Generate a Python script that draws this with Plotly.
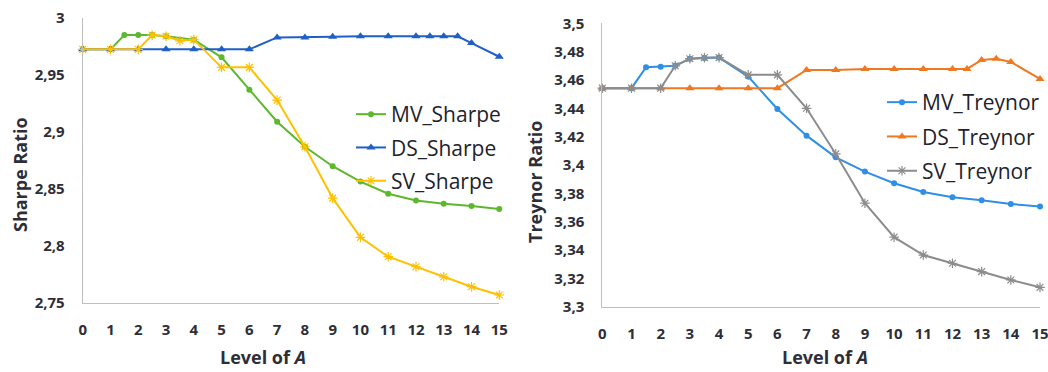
import plotly.graph_objects as go

W, H = 1048, 372

# ---------------- data ----------------
x_ticks = list(range(0, 16))

mv_sharpe_x = [0, 1, 1.5, 2, 2.5, 3, 4, 5, 6, 7, 8, 9, 10, 11, 12, 13, 14, 15]
mv_sharpe_y = [2.9725, 2.9725, 2.985, 2.985, 2.985, 2.984, 2.981, 2.9655, 2.937, 2.909,
               2.887, 2.870, 2.8565, 2.8458, 2.840, 2.837, 2.835, 2.8325]

ds_sharpe_x = [0, 1, 2, 3, 4, 5, 6, 7, 8, 9, 10, 11, 12, 12.5, 13, 13.5, 14, 15]
ds_sharpe_y = [2.9725, 2.9725, 2.9725, 2.9725, 2.9725, 2.9725, 2.9725, 2.983, 2.983, 2.9835,
               2.984, 2.984, 2.984, 2.984, 2.984, 2.984, 2.978, 2.966]

sv_sharpe_x = [0, 1, 2, 2.5, 3, 3.5, 4, 5, 6, 7, 8, 9, 10, 11, 12, 13, 14, 15]
sv_sharpe_y = [2.9725, 2.9725, 2.9725, 2.985, 2.984, 2.980, 2.981, 2.9567, 2.9567, 2.928,
               2.887, 2.842, 2.8076, 2.7906, 2.7818, 2.773, 2.7643, 2.757]

mv_treynor_x = [0, 1, 1.5, 2, 2.5, 3, 3.5, 4, 5, 6, 7, 8, 9, 10, 11, 12, 13, 14, 15]
mv_treynor_y = [3.4542, 3.4542, 3.469, 3.4694, 3.470, 3.475, 3.4755, 3.4758, 3.4624, 3.4395,
                3.4207, 3.4054, 3.3953, 3.3871, 3.3809, 3.3772, 3.3751, 3.3725, 3.3706]

ds_treynor_x = [0, 1, 2, 3, 4, 5, 6, 7, 8, 9, 10, 11, 12, 12.5, 13, 13.5, 14, 15]
ds_treynor_y = [3.4542, 3.4542, 3.4542, 3.4542, 3.4542, 3.4542, 3.4542, 3.4671, 3.4671, 3.4678,
                3.4678, 3.4678, 3.4678, 3.4678, 3.4741, 3.475, 3.4727, 3.4607]

sv_treynor_x = [0, 1, 2, 2.5, 3, 3.5, 4, 5, 6, 7, 8, 9, 10, 11, 12, 13, 14, 15]
sv_treynor_y = [3.4542, 3.4542, 3.4542, 3.470, 3.475, 3.4758, 3.4758, 3.4636, 3.4636, 3.44,
                3.4078, 3.373, 3.349, 3.3364, 3.3306, 3.3247, 3.3188, 3.3136]

sharpe_ticks = [2.75, 2.8, 2.85, 2.9, 2.95, 3.0]
sharpe_ticktext = ["2,75", "2,8", "2,85", "2,9", "2,95", "3"]
treynor_ticks = [3.3, 3.32, 3.34, 3.36, 3.38, 3.4, 3.42, 3.44, 3.46, 3.48, 3.5]
treynor_ticktext = ["3,3", "3,32", "3,34", "3,36", "3,38", "3,4", "3,42", "3,44", "3,46", "3,48", "3,5"]

# ---------------- style ----------------
FONT = "Open Sans"
TXT = "#2E2E38"
AXC = "#BFBFBF"
C_MV_S, C_DS_S, C_SV_S = "#5DB82E", "#1F5FC8", "#FFC000"
C_MV_T, C_DS_T, C_SV_T = "#2F8FE6", "#F07820", "#8C8C8C"


def px_x(p):
    return p / W


def px_y(p):
    return 1 - p / H


fig = go.Figure()


def add(x, y, name, color, symbol, size, xa, ya, legend, group):
    marker = dict(color=color, symbol=symbol, size=size)
    if symbol.startswith("asterisk"):
        marker["line"] = dict(color=color, width=1.2)
    fig.add_trace(go.Scatter(
        x=x, y=y, name=name, mode="lines+markers",
        line=dict(color=color, width=2), marker=marker,
        xaxis=xa, yaxis=ya, legend=legend, legendgroup=group,
        cliponaxis=False,
    ))


add(mv_sharpe_x, mv_sharpe_y, "MV_Sharpe", C_MV_S, "circle", 6, "x", "y", "legend", "a")
add(ds_sharpe_x, ds_sharpe_y, "DS_Sharpe", C_DS_S, "triangle-up", 8, "x", "y", "legend", "b")
add(sv_sharpe_x, sv_sharpe_y, "SV_Sharpe", C_SV_S, "asterisk-open", 8, "x", "y", "legend", "c")
add(mv_treynor_x, mv_treynor_y, "MV_Treynor", C_MV_T, "circle", 6, "x2", "y2", "legend2", "d")
add(ds_treynor_x, ds_treynor_y, "DS_Treynor", C_DS_T, "triangle-up", 8, "x2", "y2", "legend2", "e")
add(sv_treynor_x, sv_treynor_y, "SV_Treynor", C_SV_T, "asterisk-open", 8, "x2", "y2", "legend2", "f")

tickfont = dict(family=FONT, size=15, color=TXT, weight=700)

xa_common = dict(range=[0, 15], tickvals=x_ticks, showgrid=False, zeroline=False,
                 showline=True, linecolor=AXC, linewidth=1, ticks="", automargin=False,
                 tickfont=tickfont, ticklabelstandoff=13, ticklabeloverflow="allow",
                 fixedrange=True)
ya_common = dict(showgrid=False, zeroline=False, showline=True, linecolor=AXC,
                 linewidth=1, ticks="", tickfont=tickfont, ticklabelstandoff=14,
                 ticklabeloverflow="allow", automargin=False, fixedrange=True)

legend_font = dict(family=FONT, size=21, color="#22222C")

fig.update_layout(
    template="none",
    width=W, height=H,
    autosize=False,
    margin=dict(l=0, r=0, t=0, b=0, autoexpand=False),
    paper_bgcolor="white", plot_bgcolor="white",
    font=dict(family=FONT, color=TXT),
    xaxis=dict(domain=[px_x(82.7), px_x(499.3)], anchor="y", **xa_common),
    yaxis=dict(domain=[px_y(303), px_y(18)], anchor="x", range=[2.75, 3.0],
               tickvals=sharpe_ticks, ticktext=sharpe_ticktext, **ya_common),
    xaxis2=dict(domain=[px_x(602.3), px_x(1040)], anchor="y2", **xa_common),
    yaxis2=dict(domain=[px_y(306.6), px_y(23.3)], anchor="x2", range=[3.3, 3.5],
                tickvals=treynor_ticks, ticktext=treynor_ticktext, **ya_common),
    legend=dict(x=px_x(351), y=px_y(94), xanchor="left", yanchor="top",
                font=legend_font, bgcolor="rgba(0,0,0,0)", borderwidth=0,
                tracegroupgap=3, itemwidth=30),
    legend2=dict(x=px_x(882), y=px_y(82), xanchor="left", yanchor="top",
                 font=legend_font, bgcolor="rgba(0,0,0,0)", borderwidth=0,
                 tracegroupgap=4, itemwidth=30),
    showlegend=True,
)

title_font = dict(family=FONT, size=18, color=TXT, weight=700)
fig.add_annotation(text="Level of <i>A</i>", x=px_x(263), y=px_y(357), xref="paper", yref="paper",
                   showarrow=False, font=title_font, xanchor="center", yanchor="middle")
fig.add_annotation(text="Level of <i>A</i>", x=px_x(825), y=px_y(357), xref="paper", yref="paper",
                   showarrow=False, font=title_font, xanchor="center", yanchor="middle")
fig.add_annotation(text="Sharpe Ratio", x=px_x(20), y=px_y(175), xref="paper", yref="paper",
                   showarrow=False, font=title_font, textangle=-90,
                   xanchor="center", yanchor="middle")
fig.add_annotation(text="Treynor Ratio", x=px_x(535), y=px_y(182), xref="paper", yref="paper",
                   showarrow=False, font=title_font, textangle=-90,
                   xanchor="center", yanchor="middle")

fig.write_html("out.html", config={"displayModeBar": False},
               post_script="document.body.style.margin='0px';document.body.style.overflow='hidden';")
